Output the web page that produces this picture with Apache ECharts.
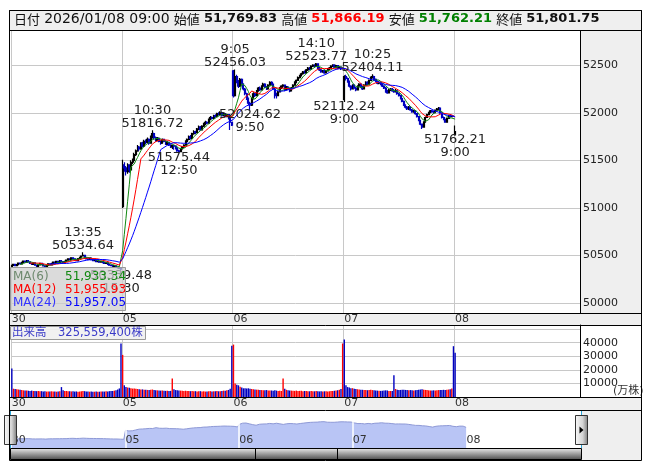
<!DOCTYPE html>
<html>
<head>
<meta charset="utf-8">
<script src="https://cdn.jsdelivr.net/npm/echarts@6/dist/echarts.min.js"></script>
<style>
  html, body { margin: 0; padding: 0; background: #fff; }
  #chart { width: 653px; height: 470px; }
</style>
</head>
<body>
<div id="chart"></div>
<script>
// 5分足: 前場 9:00-11:25, 後場 12:30-15:30
var days = ['12/30', '01/05', '01/06', '01/07'];
var lastBar = '01/08 09:00';
var padCount = 75;

// [始値, 終値, 安値, 高値]
var ohlc1230 = [
  [50385,50395,50377,50403],[50395,50407,50390,50413],[50407,50393,50387,50411],[50393,50403,50389,50408],
  [50403,50420,50400,50426],[50420,50411,50405,50424],[50411,50427,50408,50433],[50427,50440,50423,50445],
  [50440,50430,50425,50443],[50430,50447,50427,50453],[50447,50433,50428,50450],[50433,50417,50413,50436],
  [50417,50405,50400,50421],[50405,50421,50402,50425],[50421,50397,50393,50423],[50397,50385,50379,50400],
  [50385,50401,50382,50405],[50401,50416,50397,50420],[50416,50407,50403,50419],[50407,50391,50386,50410],
  [50391,50380,50374,50394],[50380,50395,50377,50399],[50395,50412,50392,50416],[50412,50401,50396,50415],
  [50401,50416,50398,50421],[50416,50431,50413,50435],[50431,50422,50417,50434],[50422,50437,50419,50442],
  [50437,50426,50421,50440],[50426,50446,50424,50451],
  [50446,50435,50427,50449],[50435,50423,50418,50438],[50423,50437,50420,50441],[50437,50450,50433,50454],
  [50450,50465,50447,50470],[50465,50456,50451,50468],[50456,50475,50453,50480],[50475,50464,50459,50478],
  [50464,50453,50448,50467],[50453,50445,50440,50456],[50445,50467,50442,50471],[50467,50481,50464,50486],
  [50481,50494,50477,50499],[50494,50502,50489,50534.64],[50502,50475,50470,50505],[50475,50463,50458,50478],
  [50463,50459,50454,50467],[50459,50471,50456,50475],[50471,50456,50451,50474],[50456,50445,50440,50459],
  [50445,50451,50441,50455],[50451,50436,50431,50454],[50436,50441,50433,50445],[50441,50430,50425,50444],
  [50430,50437,50427,50441],[50437,50425,50420,50440],[50425,50416,50411,50428],[50416,50421,50412,50425],
  [50421,50406,50401,50424],[50406,50399,50394,50409],[50399,50394,50389,50402],[50394,50385,50380,50397],
  [50385,50391,50382,50395],[50391,50376,50371,50394],[50376,50370,50364,50379],[50370,50363,50357,50373],
  [50363,50355,50339.48,50367]
];
var ohlc0105 = [
  [51014,51450,51000,51505],[51450,51420,51380,51480],[51420,51380,51340,51440],[51380,51450,51360,51470],
  [51450,51400,51370,51460],[51400,51480,51390,51500],[51480,51500,51460,51520],[51500,51560,51490,51580],
  [51560,51600,51545,51615],[51600,51640,51590,51660],[51640,51620,51600,51650],[51620,51680,51610,51690],
  [51680,51650,51635,51695],[51650,51700,51640,51715],[51700,51690,51670,51720],[51690,51720,51680,51740],
  [51720,51680,51665,51730],[51680,51740,51675,51760],[51740,51780,51730,51816.72],[51780,51740,51720,51790],
  [51740,51710,51695,51750],[51710,51730,51700,51745],[51730,51700,51690,51740],[51700,51680,51665,51710],
  [51680,51720,51675,51730],[51720,51700,51690,51725],[51700,51670,51660,51710],[51670,51690,51660,51700],
  [51690,51660,51650,51695],[51660,51640,51630,51670],
  [51640,51655,51620,51665],[51655,51650,51610,51660],[51650,51630,51615,51655],[51630,51600,51590,51640],
  [51600,51590,51575.44,51610],[51590,51620,51585,51630],[51620,51640,51610,51650],[51640,51660,51630,51670],
  [51660,51700,51655,51710],[51700,51720,51690,51730],[51720,51750,51710,51760],[51750,51730,51720,51765],
  [51730,51780,51725,51790],[51780,51800,51770,51815],[51800,51790,51775,51810],[51790,51830,51785,51840],
  [51830,51850,51820,51865],[51850,51820,51810,51860],[51820,51860,51815,51870],[51860,51880,51850,51895],
  [51880,51900,51870,51915],[51900,51890,51880,51910],[51890,51930,51885,51940],[51930,51950,51920,51965],
  [51950,51940,51930,51960],[51940,51970,51935,51980],[51970,51960,51950,51985],[51960,51990,51955,52000],
  [51990,51980,51970,52005],[51980,52000,51975,52015],[52000,51970,51960,52010],[51970,51990,51965,52000],
  [51990,51960,51950,51995],[51960,51980,51955,51990],[51980,51940,51930,51985],[51940,51900,51820,51945],
  [51900,51870,51860,51905]
];
var ohlc0106 = [
  [52440,52180,52160,52450],[52180,52380,52170,52456.03],[52380,52330,52310,52400],[52330,52280,52260,52345],
  [52280,52350,52270,52365],[52350,52300,52285,52360],[52300,52250,52235,52310],[52250,52200,52185,52260],
  [52200,52150,52135,52210],[52150,52100,52080,52160],[52100,52080,52024.62,52115],[52080,52150,52070,52160],
  [52150,52200,52140,52215],[52200,52180,52165,52210],[52180,52230,52175,52240],[52230,52260,52220,52270],
  [52260,52240,52230,52275],[52240,52280,52235,52290],[52280,52300,52270,52315],[52300,52270,52260,52310],
  [52270,52250,52240,52280],[52250,52290,52245,52300],[52290,52320,52285,52330],[52320,52300,52290,52330],
  [52300,52250,52240,52305],[52250,52200,52150,52260],[52200,52180,52150,52210],[52180,52220,52175,52230],
  [52220,52260,52215,52270],[52260,52280,52250,52290],
  [52280,52290,52260,52300],[52290,52240,52225,52295],[52240,52270,52235,52280],[52270,52250,52240,52280],
  [52250,52230,52215,52260],[52230,52260,52225,52270],[52260,52290,52255,52300],[52290,52320,52285,52330],
  [52320,52340,52310,52350],[52340,52370,52335,52380],[52370,52390,52360,52400],[52390,52410,52380,52420],
  [52410,52430,52400,52440],[52430,52420,52410,52445],[52420,52450,52415,52460],[52450,52470,52440,52480],
  [52470,52460,52450,52480],[52460,52490,52455,52500],[52490,52500,52480,52510],[52500,52490,52480,52510],
  [52490,52515,52485,52523.77],[52515,52470,52460,52520],[52470,52450,52440,52480],[52450,52430,52420,52460],
  [52430,52440,52420,52450],[52440,52420,52410,52450],[52420,52440,52415,52450],[52440,52460,52435,52470],
  [52460,52470,52450,52480],[52470,52490,52465,52500],[52490,52500,52480,52510],[52500,52480,52470,52510],
  [52480,52495,52475,52505],[52495,52470,52460,52500],[52470,52480,52465,52490],[52480,52460,52450,52485],
  [52460,52470,52455,52475]
];
var ohlc0107 = [
  [52140,52380,52112.24,52395],[52380,52360,52340,52400],[52360,52330,52315,52370],[52330,52280,52265,52340],
  [52280,52250,52235,52290],[52250,52290,52245,52300],[52290,52260,52250,52300],[52260,52240,52225,52270],
  [52240,52280,52235,52290],[52280,52300,52270,52310],[52300,52270,52260,52310],[52270,52250,52240,52280],
  [52250,52290,52245,52300],[52290,52320,52285,52330],[52320,52300,52290,52330],[52300,52340,52295,52350],
  [52340,52370,52335,52380],[52370,52380,52360,52404.11],[52380,52350,52340,52390],[52350,52330,52320,52360],
  [52330,52310,52300,52340],[52310,52320,52300,52330],[52320,52300,52290,52325],[52300,52280,52270,52310],
  [52280,52260,52250,52290],[52260,52230,52210,52270],[52230,52210,52200,52240],[52210,52240,52205,52250],
  [52240,52250,52230,52260],[52250,52230,52220,52260],
  [52230,52220,52210,52250],[52220,52230,52215,52250],[52230,52200,52190,52240],[52200,52180,52170,52210],
  [52180,52150,52140,52190],[52150,52120,52110,52160],[52120,52080,52070,52130],[52080,52060,52045,52090],
  [52060,52040,52030,52070],[52040,52060,52030,52070],[52060,52030,52020,52065],[52030,52010,52000,52040],
  [52010,52020,52000,52030],[52020,51990,51980,52025],[51990,51960,51950,51995],[51960,51920,51910,51965],
  [51920,51880,51870,51925],[51880,51850,51830,51885],[51850,51900,51845,51910],[51900,51950,51895,51960],
  [51950,51980,51945,51990],[51980,52000,51975,52010],[52000,52020,51995,52030],[52020,52010,52000,52030],
  [52010,52000,51990,52020],[52000,52028,51995,52035],[52028,52040,52020,52050],[52040,52050,52030,52060],
  [52050,52000,51990,52055],[52000,51950,51940,52005],[51950,51930,51920,51960],[51930,51901.12,51895,51940],
  [51901.12,51940,51895,51950],[51940,51970,51935,51980],[51970,51960,51950,51975],[51960,51965,51955,51970],
  [51965,51963.29,51958,51968]
];
var ohlc0108 = [[51769.83, 51801.75, 51762.21, 51866.19]];

// 出来高 (万株)
var vol1230 = [21000,6100,5900,5700,5500,5300,5100,4900,4800,4700,4600,4500,4700,4400,4500,4300,4400,4200,4300,4100,
  4200,4000,4100,4000,4200,4100,4000,3900,4100,4300,
  7300,4900,4500,4400,4300,4200,4100,4200,4000,4100,3900,4000,4200,4500,4300,4100,4000,3900,4000,3800,
  3900,4000,3800,3900,4000,4100,4000,4200,4100,4300,4400,4500,4700,5000,5500,6300,39400];
var vol0105 = [31000,8600,7300,7000,6800,6500,6200,6300,6100,5900,5700,5500,5600,5400,5300,5200,5100,5300,5500,5200,
  5000,4900,4800,4700,4800,4600,4500,4600,4400,4500,
  13600,5700,5100,4900,4800,4700,4600,4500,4600,4400,4500,4300,4400,4200,4300,4100,4200,4300,4100,4200,
  4000,4100,4200,4300,4100,4200,4300,4400,4200,4300,4500,4700,4600,4900,5200,6100,37800];
var vol0106 = [38600,10000,9000,8600,7600,7000,6400,6500,6300,6400,6100,5900,5700,5500,5400,5300,5200,5100,5000,4900,
  5100,4800,4700,4800,4600,4900,4700,4500,4600,4400,
  13600,6100,5300,5000,4800,4700,4600,4500,4700,4400,4500,4600,4300,4400,4500,4300,4200,4400,4300,4200,
  4400,4200,4100,4300,4100,4200,4300,4100,4200,4400,4500,4600,4800,5000,5300,5900,39400];
var vol0107 = [42400,8600,7300,7000,6500,6500,6100,5900,5700,5500,5400,5300,5200,5100,5000,5200,5300,5100,4900,4800,
  4700,4600,4500,4600,4700,4900,4800,4500,4400,4500,
  16100,5900,5300,5100,5200,5300,5400,5200,5100,5000,5100,4900,4800,5000,5100,5300,5500,5700,5400,5200,
  5100,4900,4800,4700,4900,4800,5000,5100,5200,5100,5300,5200,5400,5500,5700,6300,37400];
var vol0108 = [32555.94];

var priceTicks = [50000, 50500, 51000, 51500, 52000, 52500];
var volTicks = [10000, 20000, 30000, 40000];

// 高値・安値の注記: [足, 値, 表示時刻, 位置]
var notes = [
  ['12/30 13:35', 50534.64, '13:35', 'top'],
  ['12/30 15:30', 50339.48, '15:30', 'bottom'],
  ['01/05 10:30', 51816.72, '10:30', 'top'],
  ['01/05 12:50', 51575.44, '12:50', 'bottom'],
  ['01/06 09:05', 52456.03, '9:05', 'top'],
  ['01/06 09:50', 52024.62, '9:50', 'bottom'],
  ['01/06 14:10', 52523.77, '14:10', 'top'],
  ['01/07 09:00', 52112.24, '9:00', 'bottom'],
  ['01/07 10:25', 52404.11, '10:25', 'top'],
  ['01/08 09:00', 51762.21, '9:00', 'bottom']
];

var maDefs = [[6, '#118811', '#6f8a6f'], [12, '#ff0000', '#ff0000'], [24, '#0000ff', '#3333ff']];

// ---- build ----
function pad2(n) { return (n < 10 ? '0' : '') + n; }
var times = [];
for (var m = 540; m <= 685; m += 5) times.push(pad2(Math.floor(m / 60)) + ':' + pad2(m % 60));
for (var m2 = 750; m2 <= 930; m2 += 5) times.push(pad2(Math.floor(m2 / 60)) + ':' + pad2(m2 % 60));
var perDay = times.length;

var ohlcDays = [ohlc1230, ohlc0105, ohlc0106, ohlc0107];
var volDays = [vol1230, vol0105, vol0106, vol0107];
var cats = [], ohlc = [], vols = [];
days.forEach(function (d, k) {
  if (ohlcDays[k].length !== perDay || volDays[k].length !== perDay) {
    throw new Error('day ' + d + ' ohlc ' + ohlcDays[k].length + ' vol ' + volDays[k].length);
  }
  times.forEach(function (t) { cats.push(d + ' ' + t); });
  ohlc = ohlc.concat(ohlcDays[k]);
  vols = vols.concat(volDays[k]);
});
cats.push(lastBar);
ohlc = ohlc.concat(ohlc0108);
vols = vols.concat(vol0108);
var nData = cats.length;
for (var p = 0; p < padCount; p++) cats.push('pad' + p);

var closes = ohlc.map(function (r) { return r[1]; });
function movingAvg(n) {
  return closes.map(function (c, i) {
    if (i < n - 1) return null;
    var s = 0;
    for (var j = i - n + 1; j <= i; j++) s += closes[j];
    return s / n;
  });
}
var mas = maDefs.map(function (d) { return movingAvg(d[0]); });

function fmt(v) { return v.toLocaleString('en-US', { minimumFractionDigits: 2, maximumFractionDigits: 2 }); }
function isDayStart(i) { return i < nData && i % perDay === 0; }
function dayLabel(v) { return v.indexOf('pad') === 0 ? '' : v.slice(3, 5); }

var FONT = 'DejaVu Sans, Noto Sans CJK JP';
var CJK = 'Noto Sans CJK JP';
var gridGray = '#c8c8c8';
var blue = '#0000c0';

var last = ohlc[nData - 1];

var markData = notes.map(function (n) {
  var txt = n[3] === 'top' ? n[2] + '\n' + n[1].toFixed(2) : n[1].toFixed(2) + '\n' + n[2];
  return {
    coord: [n[0], n[1]],
    label: {
      position: n[3],
      distance: 0,
      offset: n[3] === 'top' ? [0, 0] : [0, -2],
      formatter: txt
    }
  };
});

var chart = echarts.init(document.getElementById('chart'));

function catAxis(gridIndex) {
  return {
    type: 'category', gridIndex: gridIndex, data: cats, boundaryGap: true,
    axisLine: { show: true, lineStyle: { color: '#000', width: 1 } },
    axisTick: { show: false },
    axisLabel: {
      show: true, interval: function (i) { return isDayStart(i); },
      formatter: dayLabel, align: 'left', margin: 1, fontSize: 11, color: '#333', fontFamily: FONT
    },
    splitLine: { show: true, interval: function (i) { return isDayStart(i); }, lineStyle: { color: gridGray, width: 1 } }
  };
}

var legendRows = maDefs.map(function (d, k) {
  return [
    { type: 'text', left: 13, top: 271 + k * 13, z: 101,
      style: { text: 'MA(' + d[0] + ')', fill: d[2], font: '12px ' + FONT } },
    { type: 'text', left: 65, top: 271 + k * 13, z: 101,
      style: { text: fmt(mas[k][nData - 1]), fill: d[1], font: '12px ' + FONT } }
  ];
}).reduce(function (a, b) { return a.concat(b); }, []);

var headerText = '{l|日付} {d|2026/01/08 09:00} {l|始値} {b|' + fmt(last[0]) + '} {l|高値} {r|' + fmt(last[3]) +
  '} {l|安値} {g|' + fmt(last[2]) + '} {l|終値} {b|' + fmt(last[1]) + '}';

var handleFill = function () {
  return new echarts.graphic.LinearGradient(0, 0, 1, 0, [
    { offset: 0, color: '#fafafa' }, { offset: 0.6, color: '#d4d4d4' }, { offset: 1, color: '#7a7a7a' }]);
};

var option = {
  animation: false,
  backgroundColor: '#fff',
  textStyle: { fontFamily: FONT },
  grid: [
    { left: 11, top: 30, width: 569, height: 283 },
    { left: 11, top: 325, width: 569, height: 72 },
    { left: 11, top: 412, width: 570, height: 36 }
  ],
  xAxis: [
    catAxis(0),
    catAxis(1),
    {
      type: 'category', gridIndex: 2, data: cats, boundaryGap: true, max: 335, z: 10,
      axisLine: { show: false }, axisTick: { show: false }, splitLine: { show: false },
      axisLabel: {
        show: true, inside: true, interval: function (i) { return isDayStart(i); },
        formatter: dayLabel, align: 'left', margin: 2, fontSize: 11, color: '#333', fontFamily: FONT
      }
    }
  ],
  yAxis: [
    {
      type: 'value', gridIndex: 0, position: 'right', min: 49895, max: 52870, splitNumber: 5,
      axisLine: { show: true, lineStyle: { color: '#000' } }, axisTick: { show: false },
      axisLabel: { margin: 3, fontSize: 11, color: '#222', fontFamily: FONT,
        formatter: function (v) { return priceTicks.indexOf(v) >= 0 ? String(v) : ''; } },
      splitLine: { lineStyle: { color: gridGray } }
    },
    {
      type: 'value', gridIndex: 1, position: 'right', min: 0, max: 53000, splitNumber: 5,
      axisLine: { show: true, lineStyle: { color: '#000' } }, axisTick: { show: false },
      axisLabel: { margin: 3, fontSize: 11, color: '#222', fontFamily: FONT,
        formatter: function (v) { return volTicks.indexOf(v) >= 0 ? String(v) : ''; } },
      splitLine: { lineStyle: { color: gridGray } }
    },
    { type: 'value', gridIndex: 2, min: 49290, max: 53700, show: false }
  ],
  series: [
    {
      type: 'candlestick', xAxisIndex: 0, yAxisIndex: 0, data: ohlc, barWidth: 1.5,
      itemStyle: { color: '#000', color0: blue, borderColor: '#000', borderColor0: blue, borderWidth: 1.2 },
      markPoint: {
        symbol: 'circle', symbolSize: 0, silent: true,
        label: { show: true, color: '#222', fontSize: 13, lineHeight: 13, fontFamily: FONT },
        data: markData
      }
    }
  ].concat(maDefs.map(function (d, k) {
    return {
      type: 'line', xAxisIndex: 0, yAxisIndex: 0, data: mas[k], symbol: 'none', z: 3,
      lineStyle: { color: d[1], width: 1 }
    };
  })).concat([
    {
      type: 'bar', xAxisIndex: 1, yAxisIndex: 1, data: vols, barWidth: '85%',
      itemStyle: {
        color: function (p) {
          var i = p.dataIndex;
          return i > 0 && closes[i] >= closes[i - 1] ? '#ff0000' : blue;
        }
      }
    },
    {
      type: 'line', xAxisIndex: 2, yAxisIndex: 2, data: closes, symbol: 'none',
      lineStyle: { color: '#8e99d6', width: 1 },
      areaStyle: { color: '#b9c5f5', opacity: 1 },
      markLine: {
        silent: true, symbol: ['none', 'none'], label: { show: false },
        lineStyle: { color: '#fff', width: 1.5, type: 'solid' },
        data: [{ xAxis: cats[perDay] }, { xAxis: cats[perDay * 2] }, { xAxis: cats[perDay * 3] }, { xAxis: cats[perDay * 4] }]
      }
    }
  ]),
  graphic: [
    // gray panels
    { type: 'rect', z: -1, shape: { x: 580, y: 30, width: 61, height: 283 }, style: { fill: '#efefef' } },
    { type: 'rect', z: -1, shape: { x: 10, y: 313, width: 631, height: 12 }, style: { fill: '#efefef' } },
    { type: 'rect', z: -1, shape: { x: 10, y: 397, width: 631, height: 13 }, style: { fill: '#efefef' } },
    { type: 'rect', z: -1, shape: { x: 581, y: 410, width: 60, height: 50 }, style: { fill: '#efefef' } },
    // panel borders
    { type: 'line', z: 50, shape: { x1: 10, y1: 325.5, x2: 641, y2: 325.5 }, style: { stroke: '#000', lineWidth: 1 } },
    { type: 'line', z: 50, shape: { x1: 10, y1: 313.5, x2: 641, y2: 313.5 }, style: { stroke: '#000', lineWidth: 1 } },
    { type: 'line', z: 50, shape: { x1: 10, y1: 397.5, x2: 641, y2: 397.5 }, style: { stroke: '#000', lineWidth: 1 } },
    { type: 'line', z: 50, shape: { x1: 10, y1: 410.5, x2: 641, y2: 410.5 }, style: { stroke: '#000', lineWidth: 1 } },
    // slider window edges
    { type: 'line', z: 50, shape: { x1: 10.5, y1: 411, x2: 10.5, y2: 448 }, style: { stroke: '#2aa6da', lineWidth: 1 } },
    { type: 'line', z: 50, shape: { x1: 581.5, y1: 411, x2: 581.5, y2: 448 }, style: { stroke: '#2aa6da', lineWidth: 1 } },
    // handles
    { type: 'rect', z: 60, shape: { x: 4.5, y: 415.5, width: 12, height: 29 },
      style: { stroke: '#333', lineWidth: 1, fill: handleFill() } },
    { type: 'rect', z: 60, shape: { x: 575.5, y: 415.5, width: 12, height: 29 },
      style: { stroke: '#333', lineWidth: 1, fill: handleFill() } },
    { type: 'polygon', z: 61, shape: { points: [[579.5, 426.5], [583.5, 430], [579.5, 433.5]] }, style: { fill: '#000' } },
    // scroll strip
    { type: 'rect', z: 50, shape: { x: 10.5, y: 448.5, width: 571, height: 11 },
      style: { stroke: '#000', lineWidth: 1, fill: new echarts.graphic.LinearGradient(0, 0, 0, 1, [
        { offset: 0, color: '#ededed' }, { offset: 1, color: '#4a4a4a' }]) } },
    { type: 'line', z: 51, shape: { x1: 255.5, y1: 449, x2: 255.5, y2: 459 }, style: { stroke: '#000', lineWidth: 1 } },
    { type: 'line', z: 51, shape: { x1: 337.5, y1: 449, x2: 337.5, y2: 459 }, style: { stroke: '#000', lineWidth: 1 } },
    // header
    { type: 'rect', z: 90, shape: { x: 9.5, y: 10.5, width: 632, height: 20 }, style: { fill: '#efefef', stroke: '#000', lineWidth: 1 } },
    { type: 'text', z: 91, left: 14, top: 12,
      style: {
        text: headerText, fill: '#000', font: '13px ' + FONT,
        rich: {
          l: { fontFamily: CJK, fontSize: 13, fill: '#111' },
          d: { fontFamily: FONT, fontSize: 14, fill: '#111' },
          b: { fontFamily: FONT, fontSize: 13, fontWeight: 'bold', fill: '#111' },
          r: { fontFamily: FONT, fontSize: 13, fontWeight: 'bold', fill: '#ff0000' },
          g: { fontFamily: FONT, fontSize: 13, fontWeight: 'bold', fill: '#008000' }
        }
      } },
    // MA legend
    { type: 'rect', z: 100, shape: { x: 10.5, y: 267.5, width: 115, height: 43 },
      style: { fill: 'rgba(205,205,205,0.72)', stroke: '#999', lineWidth: 1 } }
  ].concat(legendRows).concat([
    // volume label
    { type: 'rect', z: 100, shape: { x: 10.5, y: 326.5, width: 135, height: 13 },
      style: { fill: 'rgba(240,240,240,0.9)', stroke: '#999', lineWidth: 1 } },
    { type: 'text', z: 101, left: 12, top: 327,
      style: { text: '出来高\u3000' + (vols[nData - 1] * 10000).toLocaleString('en-US') + '株', fill: '#3a3ac8', font: '11.5px ' + FONT } },
    { type: 'text', z: 101, left: 613, top: 386, style: { text: '(万株)', fill: '#333', font: '11px ' + FONT } },
    // outer frame
    { type: 'rect', z: 120, shape: { x: 9.5, y: 10.5, width: 632, height: 450 }, style: { fill: 'none', stroke: '#000', lineWidth: 1 } }
  ])
};

chart.setOption(option);
</script>
</body>
</html>
